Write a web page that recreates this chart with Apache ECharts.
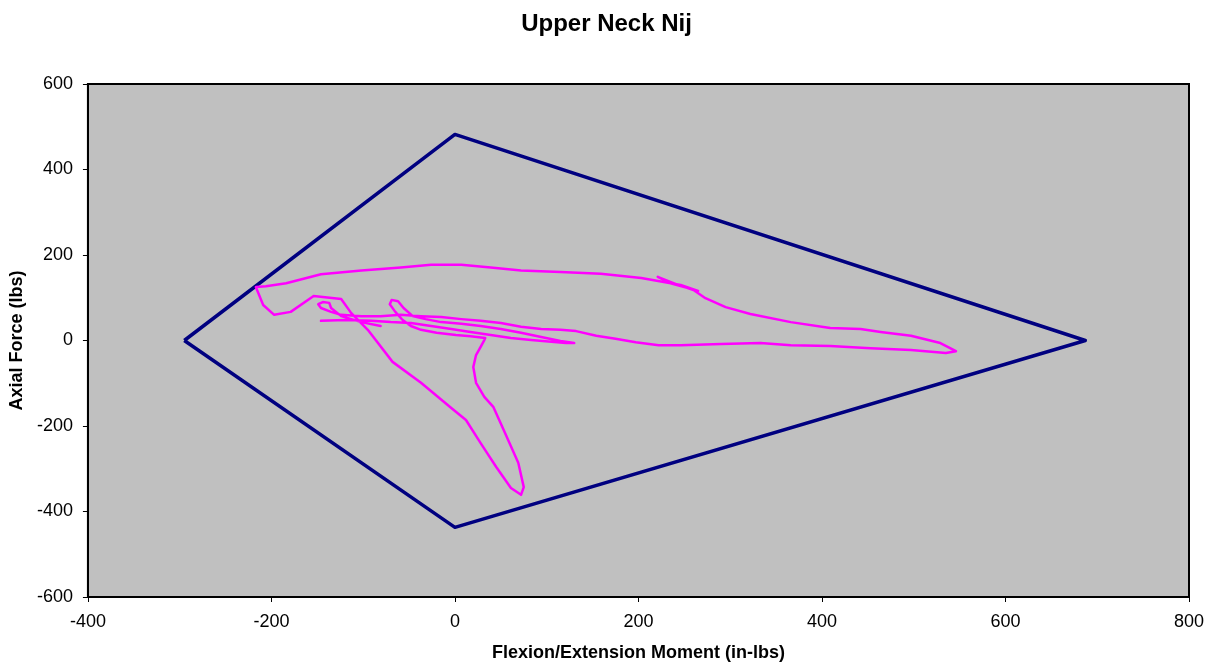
<!DOCTYPE html>
<html>
<head>
<meta charset="utf-8">
<script src="https://cdn.jsdelivr.net/npm/echarts@6/dist/echarts.min.js"></script>
<style>
html,body{margin:0;padding:0;background:#fff;}
#c{width:1213px;height:669px;}
</style>
</head>
<body>
<div id="c"></div>
<script>
// Limit (Nij) diamond, in-lbs / lbs
const limitMoment = [-295, 0, 687, 0, -295];
const limitForce  = [0, 482, 0, -437, 0];

// Measured trace
const traceMoment = [
  -146,-119,-91,-70,-48,-26,-4,17,39,61,83,105,121,130,
  115,94,72,50,28,7,-15,-32,
  -46,-56,-62,-69,-71,-65,-57,-48,-37,-20,1,17,33,
  32,28,23,20,23,32,42,53,69,75,72,61,45,28,12,-4,-37,-68,-95,-113,-124,
  -154,-179,-197,-209,-217,
  -206,-184,-146,-102,-59,-26,7,39,72,115,159,203,246,265,
  235,221,241,260,
  273,295,322,366,409,442,464,497,529,546,535,497,453,409,366,333,290,246,222,197,175,154,132,115,94,72,50,28,7,-15,-37,-59,-81,-102,-124,-135,-146,-149,-144,-137,-135,-124,-102,-81
];
const traceForce = [
  46,48,46,43,41,34,27,20,13,6,1,-3,-6,-6,
  -1,8,18,27,34,39,43,50,
  57,76,92,95,85,67,48,34,25,18,13,10,6,
  1,-15,-34,-62,-99,-132,-156,-209,-286,-343,-361,-345,-296,-240,-186,-158,-99,-50,25,64,97,
  104,67,60,83,125,
  127,134,155,164,171,177,177,171,164,160,156,146,130,116,
  134,149,132,118,
  99,78,62,43,29,27,20,11,-6,-25,-29,-22,-18,-13,-11,-6,-8,-11,-11,-4,4,11,22,25,27,32,41,46,50,55,57,60,57,57,60,67,76,85,90,88,76,57,43,34
];

// Axis ticks
const xTicks = [-400, -200, 0, 200, 400, 600, 800];
const yTicks = [-600, -400, -200, 0, 200, 400, 600];

const limitData = limitMoment.map((v, i) => [v, limitForce[i]]);
const traceData = traceMoment.map((v, i) => [v, traceForce[i]]);

const chart = echarts.init(document.getElementById('c'), null, {renderer: 'canvas'});
const font = 'Arial, "Liberation Sans", sans-serif';
chart.setOption({
  backgroundColor: '#ffffff',
  animation: false,
  title: {
    text: 'Upper Neck Nij',
    left: 'center',
    top: 7,
    textStyle: {fontFamily: font, fontSize: 24, fontWeight: 'bold', color: '#000'}
  },
  grid: {
    left: 87, top: 84, right: 24, bottom: 72,
    show: true, backgroundColor: '#c0c0c0', borderColor: '#000', borderWidth: 2
  },
  xAxis: {
    type: 'value',
    min: xTicks[0], max: xTicks[xTicks.length - 1], interval: 200,
    name: 'Flexion/Extension Moment (in-lbs)',
    nameLocation: 'middle', nameGap: 47,
    nameTextStyle: {fontFamily: font, fontSize: 18, fontWeight: 'bold', color: '#000'},
    axisLine: {show: true, onZero: false, lineStyle: {color: '#000', width: 2}},
    axisTick: {show: true, inside: false, length: 5, lineStyle: {color: '#000'}},
    axisLabel: {fontFamily: font, fontSize: 18, color: '#000', margin: 16},
    splitLine: {show: false}
  },
  yAxis: {
    type: 'value',
    min: yTicks[0], max: yTicks[yTicks.length - 1], interval: 200,
    name: 'Axial Force (lbs)',
    nameLocation: 'middle', nameGap: 61, nameRotate: 90,
    nameTextStyle: {fontFamily: font, fontSize: 18, fontWeight: 'bold', color: '#000'},
    axisLine: {show: true, onZero: false, lineStyle: {color: '#000', width: 2}},
    axisTick: {show: true, inside: false, length: 5, lineStyle: {color: '#000'}},
    axisLabel: {fontFamily: font, fontSize: 18, color: '#000', margin: 15},
    splitLine: {show: false}
  },
  series: [
    {
      type: 'line', data: limitData, showSymbol: false, symbol: 'none',
      lineStyle: {color: '#000080', width: 3.5, join: 'round'},
      z: 2
    },
    {
      type: 'line', data: traceData, showSymbol: false, symbol: 'none',
      lineStyle: {color: '#ff00ff', width: 2.5, join: 'round', cap: 'round'},
      z: 3
    }
  ]
});
</script>
</body>
</html>
